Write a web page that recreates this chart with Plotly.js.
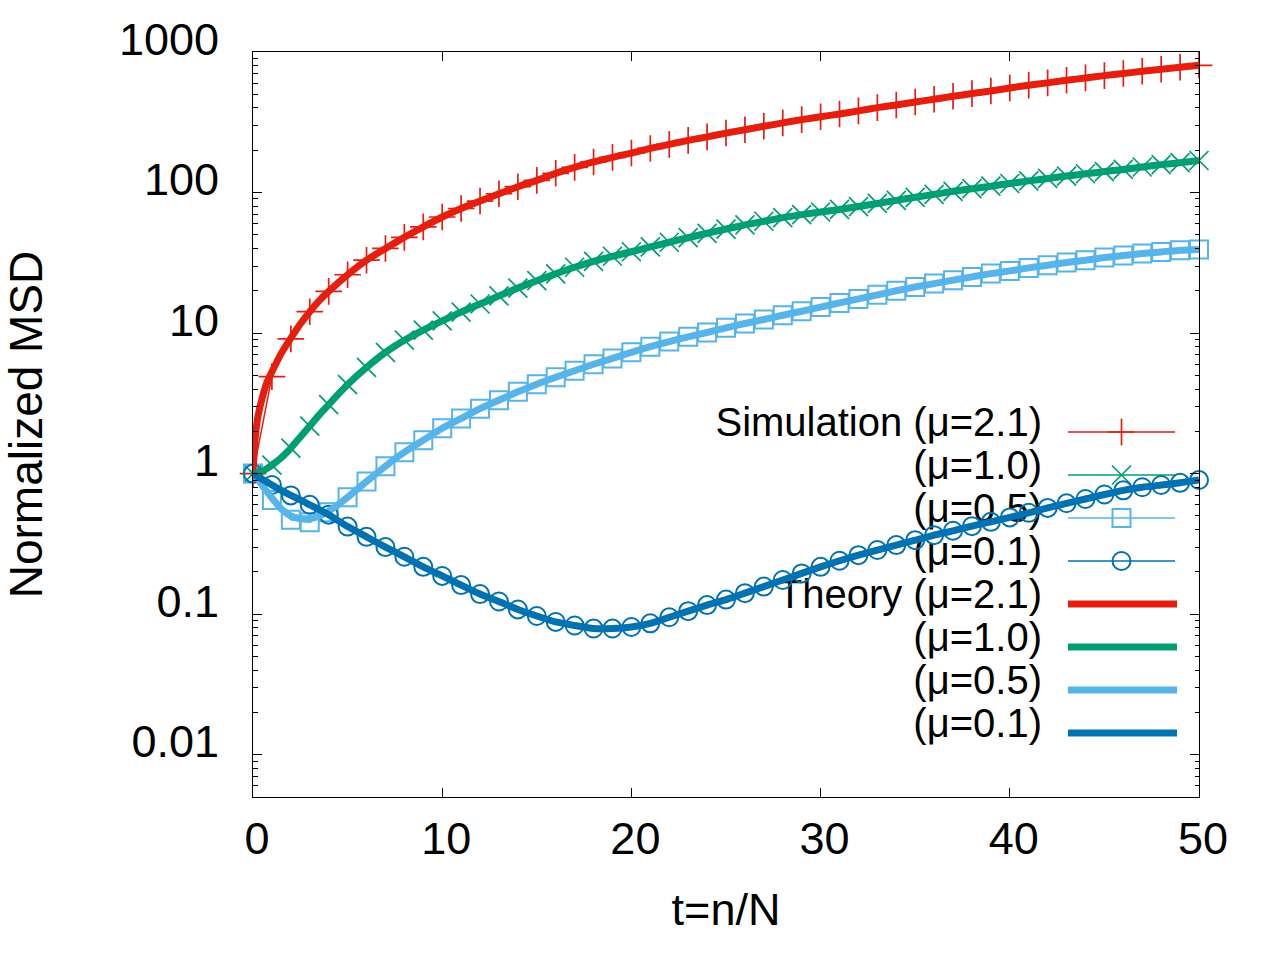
<!DOCTYPE html>
<html>
<head>
<meta charset="utf-8">
<script src="https://cdn.plot.ly/plotly-3.0.1.min.js"></script>
<style>
  html, body { margin: 0; padding: 0; background: #fff; }
  #chart { width: 1280px; height: 960px; }
</style>
</head>
<body>
<div id="chart"></div>
<script>
// Simulation sample times t = n/N
const tSim = [0, 1, 2, 3, 4, 5, 6, 7, 8, 9, 10, 11, 12, 13, 14, 15, 16, 17, 18, 19, 20,
  21, 22, 23, 24, 25, 26, 27, 28, 29, 30, 31, 32, 33, 34, 35, 36, 37, 38, 39, 40,
  41, 42, 43, 44, 45, 46, 47, 48, 49, 50];

// Theory curve times (denser near t=0)
const tTheory = [0, 0.1, 0.25, 0.5, 0.75, 1, 1.5, 2, 2.5, 3, 3.5, 4, 5, 6, 7, 8, 9, 10,
  11, 12, 13, 14, 15, 16, 17, 18, 19, 20, 21, 22, 23, 24, 25, 26, 27, 28, 29, 30,
  31, 32, 33, 34, 35, 36, 37, 38, 39, 40, 41, 42, 43, 44, 45, 46, 47, 48, 49, 50];

// Simulation MSD
const simMu21 = [1, 4.9, 9.1, 14.2, 19.8, 26, 33, 40, 48, 57, 67, 77, 87, 98, 110,
  122, 137, 151, 165, 178, 191, 206, 220, 235, 249, 265, 280, 296, 313, 330, 346,
  362, 381, 402, 420, 441, 461, 484, 506, 528, 555, 580, 603, 629, 654, 679, 703,
  729, 753, 778, 804];
const simMu10 = [1, 1.15, 1.52, 2.18, 3.1, 4.3, 5.7, 7.3, 8.9, 10.5, 12.2, 14.1, 16.1,
  18.4, 20.9, 23.6, 26.4, 29.4, 32.4, 35.2, 37.9, 41, 44.3, 47.7, 51.3, 55, 58.8,
  62.5, 66.3, 69.6, 72.7, 75.8, 79.5, 83.6, 88, 92.5, 97, 102, 106.5, 111, 116, 121,
  126, 131, 136, 141, 146, 152, 158, 163, 169];
const simMu05 = [1, 0.65, 0.47, 0.45, 0.53, 0.68, 0.88, 1.13, 1.42, 1.73, 2.1, 2.47,
  2.9, 3.33, 3.82, 4.33, 4.85, 5.4, 6.0, 6.6, 7.3, 8.0, 8.7, 9.4, 10.1, 10.9, 11.7,
  12.5, 13.4, 14.3, 15.3, 16.4, 17.5, 18.7, 20, 21.3, 22.5, 23.8, 25.1, 26.5, 27.7,
  29.1, 30.4, 31.8, 33, 34.5, 35.7, 36.8, 37.8, 38.9, 39.4];
const simMu01 = [1, 0.83, 0.70, 0.60, 0.51, 0.42, 0.355, 0.30, 0.256, 0.217, 0.187,
  0.161, 0.139, 0.123, 0.108, 0.097, 0.088, 0.083, 0.079, 0.079, 0.081, 0.086, 0.095,
  0.105, 0.116, 0.127, 0.141, 0.157, 0.175, 0.195, 0.217, 0.24, 0.263, 0.286, 0.31,
  0.336, 0.365, 0.392, 0.423, 0.454, 0.488, 0.526, 0.57, 0.615, 0.66, 0.71, 0.76,
  0.80, 0.83, 0.86, 0.90];

// Theory MSD
const thMu21 = [1, 1.7, 2.5, 3.5, 4.5, 5.3, 7.2, 9.2, 11.6, 14.2, 17, 19.8, 26, 33, 40,
  48, 57, 67, 77, 87, 98, 110, 122, 137, 151, 165, 178, 191, 206, 220, 235, 249, 265,
  280, 296, 313, 330, 346, 362, 381, 402, 420, 441, 461, 484, 506, 528, 555, 580, 603,
  629, 654, 679, 703, 729, 753, 778, 804];
const thMu10 = [1, 1.0, 1.01, 1.04, 1.09, 1.15, 1.3, 1.52, 1.82, 2.18, 2.62, 3.1, 4.3,
  5.7, 7.3, 8.9, 10.5, 12.2, 14.1, 16.1, 18.4, 20.9, 23.6, 26.4, 29.4, 32.4, 35.2,
  37.9, 41, 44.3, 47.7, 51.3, 55, 58.8, 62.5, 66.3, 69.6, 72.7, 75.8, 79.5, 83.6, 88,
  92.5, 97, 102, 106.5, 111, 116, 121, 126, 131, 136, 141, 146, 152, 158, 163, 169];
const thMu05 = [1, 0.97, 0.92, 0.82, 0.74, 0.67, 0.56, 0.5, 0.48, 0.48, 0.5, 0.54, 0.68,
  0.88, 1.13, 1.42, 1.73, 2.1, 2.47, 2.9, 3.33, 3.82, 4.33, 4.85, 5.4, 6.0, 6.6, 7.3,
  8.0, 8.7, 9.4, 10.1, 10.9, 11.7, 12.5, 13.4, 14.3, 15.3, 16.4, 17.5, 18.7, 20, 21.3,
  22.5, 23.8, 25.1, 26.5, 27.7, 29.1, 30.4, 31.8, 33, 34.5, 35.7, 36.8, 37.8, 38.9, 39.4];
const thMu01 = [1, 0.98, 0.95, 0.91, 0.87, 0.83, 0.76, 0.70, 0.65, 0.60, 0.555, 0.51,
  0.42, 0.355, 0.30, 0.256, 0.217, 0.187, 0.161, 0.139, 0.123, 0.108, 0.097, 0.088,
  0.083, 0.079, 0.079, 0.081, 0.086, 0.095, 0.105, 0.116, 0.127, 0.141, 0.157, 0.175,
  0.195, 0.217, 0.24, 0.263, 0.286, 0.31, 0.336, 0.365, 0.392, 0.423, 0.454, 0.488,
  0.526, 0.57, 0.615, 0.66, 0.71, 0.76, 0.80, 0.83, 0.86, 0.90];

// Tick labels
const xTicks = [0, 10, 20, 30, 40, 50];
const yTicks = [0.01, 0.1, 1, 10, 100, 1000];
const yTickText = ['0.01', '0.1', '1', '10', '100', '1000'];

// Key entries
const keyLabels = ['Simulation (\u03bc=2.1)', '(\u03bc=1.0)', '(\u03bc=0.5)', '(\u03bc=0.1)',
  'Theory (\u03bc=2.1)', '(\u03bc=1.0)', '(\u03bc=0.5)', '(\u03bc=0.1)'];

// gnuplot default colours
const RED = '#e51e10', GREEN = '#009e73', SKY = '#56b4e9', BLUE = '#0072b2';
const FONT = 'Liberation Sans, Arial, sans-serif';

// plot area in pixels
const W = 1280, H = 960;
const L = 253, R = 1199, T = 52, B = 797;
const px2x = px => (px - L) / (R - L);
const px2y = py => (B - py) / (B - T);

const simStyle = [
  { y: simMu21, c: RED, sym: 'cross-thin-open', size: 19, lw: 1.7 },
  { y: simMu10, c: GREEN, sym: 'x-thin-open', size: 19, lw: 1.7 },
  { y: simMu05, c: SKY, sym: 'square-open', size: 18, lw: 2 },
  { y: simMu01, c: BLUE, sym: 'circle-open', size: 18, lw: 2 }
];
const thStyle = [
  { y: thMu21, c: RED }, { y: thMu10, c: GREEN }, { y: thMu05, c: SKY }, { y: thMu01, c: BLUE }
];

const traces = [];

// key (drawn on the base subplot, under the data)
const rowY = [432, 475, 518, 561, 604, 647, 690, 733];
traces.push({
  x: rowY.map(() => px2x(1042)), y: rowY.map(r => px2y(r - 6)),
  text: keyLabels, mode: 'text', textposition: 'middle left',
  textfont: { family: FONT, size: 40, color: '#000' },
  xaxis: 'x', yaxis: 'y', hoverinfo: 'skip', showlegend: false, cliponaxis: false
});
simStyle.forEach((s, i) => {
  traces.push({
    x: [px2x(1068), px2x(1175)], y: [px2y(rowY[i]), px2y(rowY[i])],
    mode: 'lines', line: { color: s.c, width: 1.5 },
    xaxis: 'x', yaxis: 'y', hoverinfo: 'skip', showlegend: false, cliponaxis: false
  });
  traces.push({
    x: [px2x(1121.5)], y: [px2y(rowY[i])],
    mode: 'markers', marker: { symbol: s.sym, size: s.size, color: s.c, line: { color: s.c, width: s.lw } },
    xaxis: 'x', yaxis: 'y', hoverinfo: 'skip', showlegend: false, cliponaxis: false
  });
});
thStyle.forEach((s, i) => {
  traces.push({
    x: [px2x(1068), px2x(1177)], y: [px2y(rowY[i + 4]), px2y(rowY[i + 4])],
    mode: 'lines', line: { color: s.c, width: 7 },
    xaxis: 'x', yaxis: 'y', hoverinfo: 'skip', showlegend: false, cliponaxis: false
  });
});

// data
simStyle.forEach(s => {
  traces.push({
    x: tSim, y: s.y, mode: 'lines+markers', xaxis: 'x2', yaxis: 'y2',
    line: { color: s.c, width: 1.5 },
    marker: { symbol: s.sym, size: s.size, color: s.c, line: { color: s.c, width: s.lw } },
    showlegend: false, cliponaxis: false
  });
});
thStyle.forEach(s => {
  traces.push({
    x: tTheory, y: s.y, mode: 'lines', xaxis: 'x2', yaxis: 'y2',
    line: { color: s.c, width: 7, shape: 'spline', smoothing: 0.6 },
    showlegend: false
  });
});

const layout = {
  width: W, height: H,
  margin: { l: L, r: W - R, t: T, b: H - B, pad: 0 },
  paper_bgcolor: '#fff', plot_bgcolor: '#fff',
  showlegend: false,
  font: { family: FONT, color: '#000' },
  xaxis: { range: [0, 1], fixedrange: true, visible: false },
  yaxis: { range: [0, 1], fixedrange: true, visible: false },
  xaxis2: {
    overlaying: 'x', anchor: 'y2', range: [0, 50],
    tickvals: xTicks, ticks: 'inside', ticklen: 9, tickwidth: 1, tickcolor: '#000',
    showline: true, linecolor: '#000', linewidth: 1, mirror: 'allticks',
    showgrid: false, zeroline: false,
    tickfont: { family: FONT, size: 45, color: '#000' },
    ticklabelstandoff: 2, ticklabelshift: 4,
    title: { text: 't=n/N', font: { family: FONT, size: 45, color: '#000' }, standoff: 30 }
  },
  yaxis2: {
    overlaying: 'y', anchor: 'x2', type: 'log',
    range: [Math.log10(0.005), 3],
    tickvals: yTicks, ticktext: yTickText,
    ticks: 'inside', ticklen: 9, tickwidth: 1, tickcolor: '#000',
    minor: { ticks: 'inside', ticklen: 4.5, tickwidth: 1, tickcolor: '#000', dtick: 'D1' },
    showline: true, linecolor: '#000', linewidth: 1, mirror: 'allticks',
    showgrid: false, zeroline: false,
    tickfont: { family: FONT, size: 45, color: '#000' },
    ticklabelstandoff: 24, ticklabelshift: -13,
    title: { text: 'Normalized MSD', font: { family: FONT, size: 46, color: '#000' }, standoff: 62 }
  }
};

Plotly.newPlot('chart', traces, layout, { staticPlot: true });
</script>
</body>
</html>
